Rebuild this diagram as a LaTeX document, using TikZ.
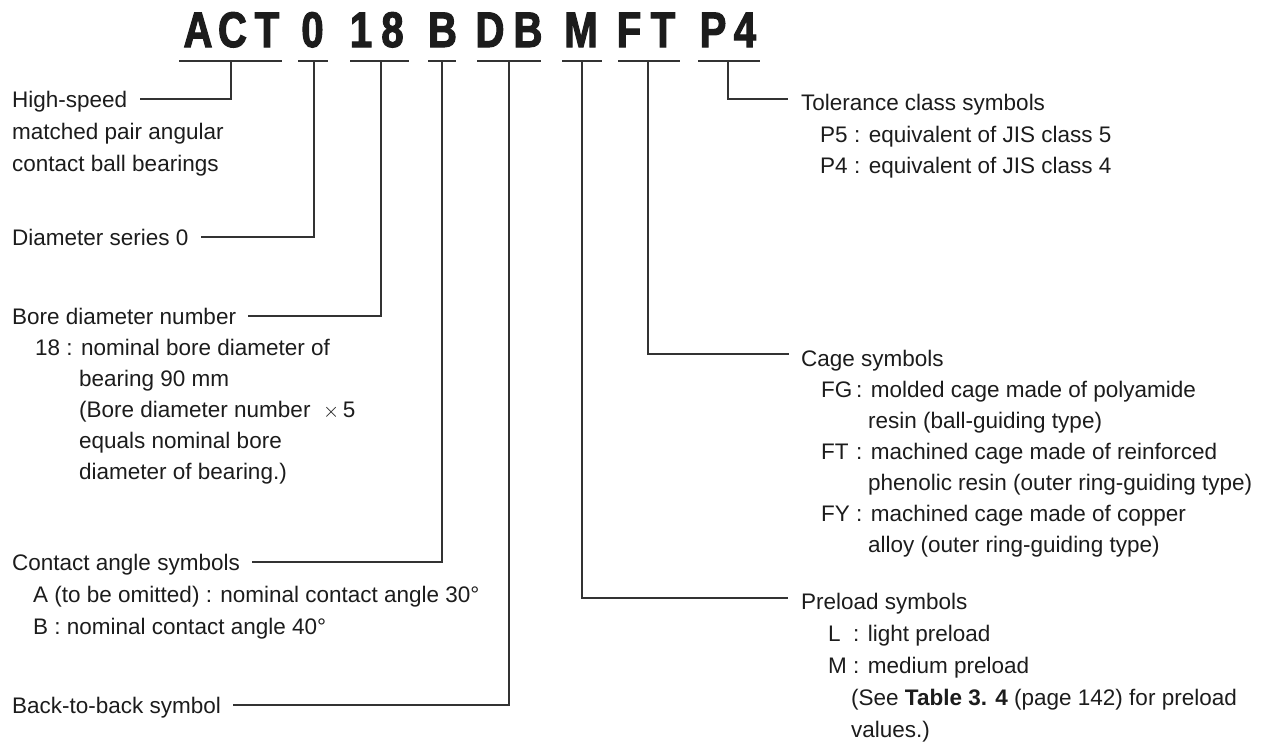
\documentclass[tikz,border=0pt]{standalone}
\usepackage{fontspec}
\setmainfont{Liberation Sans}
\newfontface\hdrfont[FakeBold=2.2,FakeStretch=0.8]{Liberation Sans Bold}
\definecolor{txt}{HTML}{1C1C1C}
\definecolor{lin}{HTML}{333333}
\newcommand\lbox[2]{\makebox[#1][l]{#2}}
\begin{document}
\begin{tikzpicture}[x=1pt,y=-1pt,
  lbl/.style={anchor=base west,inner sep=0pt,font=\fontsize{22.5}{26}\selectfont,text=txt},
  hdr/.style={anchor=base,inner sep=0pt,font=\hdrfont\fontsize{50}{51}\selectfont,text=txt},
  conn/.style={draw=lin,line width=1.25pt}]
\useasboundingbox (0,0) rectangle (1269,748);
% header characters
\node[hdr] (hA) at (198,47) {A};
\node[hdr] (hC) at (232.5,47) {C};
\node[hdr] (hT) at (267,47) {T};
\node[hdr] (h0) at (312.5,47) {0};
\node[hdr] (h1) at (361,47) {1};
\node[hdr] (h8) at (392.5,47) {8};
\node[hdr] (hB) at (442.5,47) {B};
\node[hdr] (hD2) at (490,47) {D};
\node[hdr] (hB2) at (528,47) {B};
\node[hdr] (hM) at (581,47) {M};
\node[hdr] (hF) at (629,47) {F};
\node[hdr] (hT2) at (663,47) {T};
\node[hdr] (hP) at (713,47) {P};
\node[hdr] (h4) at (745,47) {4};
% underline end points and ticks
\coordinate (uACTl) at (179,61); \coordinate (uACTr) at (282,61); \coordinate (tACT) at (231,61);
\coordinate (u0l) at (298,61);   \coordinate (u0r) at (328,61);   \coordinate (t0) at (314,61);
\coordinate (u18l) at (350,61);  \coordinate (u18r) at (409,61);  \coordinate (t18) at (381,61);
\coordinate (uBl) at (428,61);   \coordinate (uBr) at (456,61);   \coordinate (tB) at (442,61);
\coordinate (uDBl) at (477,61);  \coordinate (uDBr) at (541,61);  \coordinate (tDB) at (509,61);
\coordinate (uMl) at (562,61);   \coordinate (uMr) at (602,61);   \coordinate (tM) at (582,61);
\coordinate (uFTl) at (618,61);  \coordinate (uFTr) at (680,61);  \coordinate (tFT) at (648,61);
\coordinate (uP4l) at (698,61);  \coordinate (uP4r) at (760,61);  \coordinate (tP4) at (728,61);
\foreach \g in {ACT,0,18,B,DB,M,FT,P4}{\draw[conn] (u\g l) -- (u\g r);}
% left labels
\node[lbl] (hs) at (12,107) {High-speed};
\node[lbl] (hs2) at (12,139) {matched pair angular};
\node[lbl] (hs3) at (12,171) {contact ball bearings};
\node[lbl] (ds) at (12,245) {Diameter series 0};
\node[lbl] (bd) at (12,324) {Bore diameter number};
\node[lbl] (bd1) at (35,355) {18 : nominal bore diameter of};
\node[lbl] (bd2) at (79,386) {bearing 90 mm};
\node[lbl] (bd3) at (79,417) {(Bore diameter number \ $\times$\,5};
\node[lbl] (bd4) at (79,448) {equals nominal bore};
\node[lbl] (bd5) at (79,479) {diameter of bearing.)};
\node[lbl] (ca) at (12,570) {Contact angle symbols};
\node[lbl] (ca1) at (33,602) {A (to be omitted) : nominal contact angle 30°};
\node[lbl] (ca2) at (33,634) {B : nominal contact angle 40°};
\node[lbl] (bb) at (12,713) {Back-to-back symbol};
% right labels
\node[lbl] (tol) at (801,110) {Tolerance class symbols};
\node[lbl] (tol1) at (820,142) {\lbox{34pt}{P5}: equivalent of JIS class 5};
\node[lbl] (tol2) at (820,173) {\lbox{34pt}{P4}: equivalent of JIS class 4};
\node[lbl] (cg) at (801,366) {Cage symbols};
\node[lbl] (cg1) at (821,397) {\lbox{35pt}{FG}: molded cage made of polyamide};
\node[lbl] (cg2) at (868,428) {resin (ball-guiding type)};
\node[lbl] (cg3) at (821,459) {\lbox{35pt}{FT}: machined cage made of reinforced};
\node[lbl] (cg4) at (868,490) {phenolic resin (outer ring-guiding type)};
\node[lbl] (cg5) at (821,521) {\lbox{35pt}{FY}: machined cage made of copper};
\node[lbl] (cg6) at (868,552) {alloy (outer ring-guiding type)};
\node[lbl] (pl) at (801,609) {Preload symbols};
\node[lbl] (pl1) at (828,641) {\lbox{25pt}{L}: light preload};
\node[lbl] (pl2) at (828,673) {\lbox{25pt}{M}: medium preload};
\node[lbl] (pl3) at (851,705) {(See \textbf{Table 3. 4} (page 142) for preload};
\node[lbl] (pl4) at (851,737) {values.)};
% connectors
\draw[conn] (tACT) |- ([shift={(13pt,8pt)}]hs.base east);
\draw[conn] (t0) |- ([shift={(12pt,8pt)}]ds.base east);
\draw[conn] (t18) |- ([shift={(12pt,8pt)}]bd.base east);
\draw[conn] (tB) |- ([shift={(12pt,8pt)}]ca.base east);
\draw[conn] (tDB) |- ([shift={(12pt,8pt)}]bb.base east);
\draw[conn] (tP4) |- ([shift={(-13pt,11pt)}]tol.base west);
\draw[conn] (tFT) |- ([shift={(-12pt,12pt)}]cg.base west);
\draw[conn] (tM) |- ([shift={(-13pt,11pt)}]pl.base west);
\end{tikzpicture}
\end{document}
